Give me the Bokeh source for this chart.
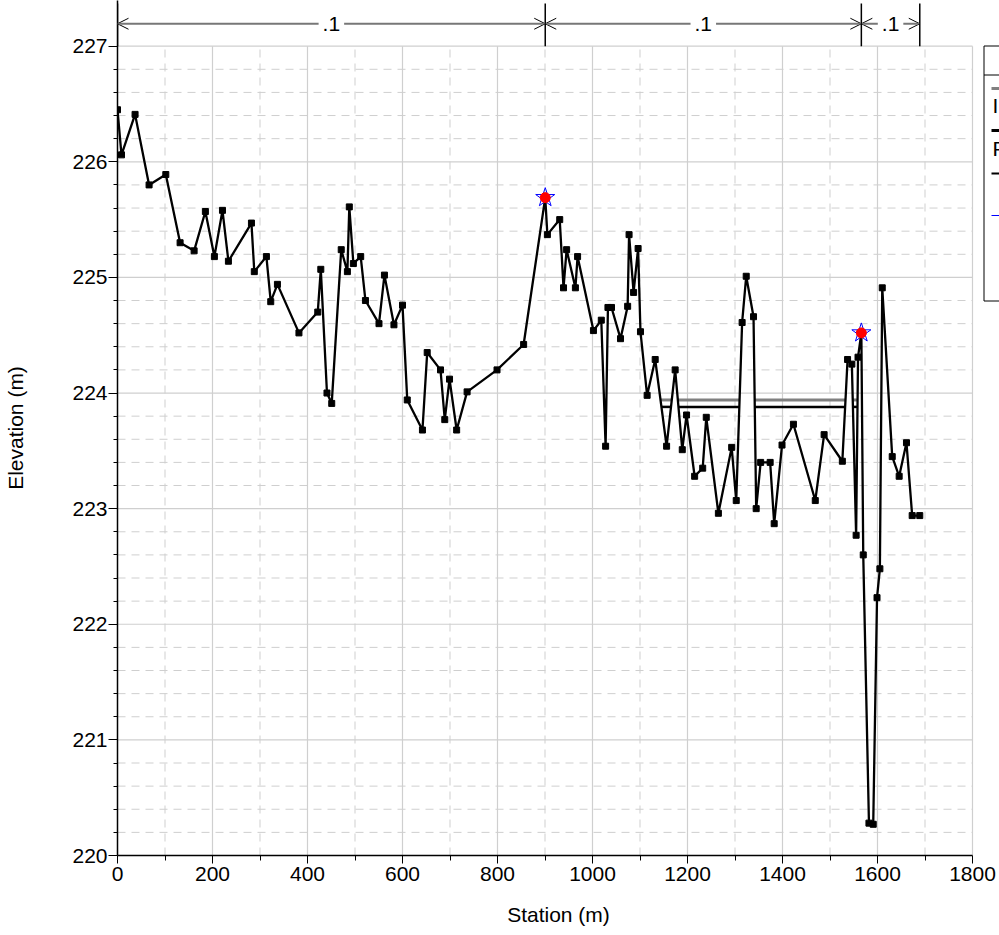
import numpy as np
from bokeh.plotting import figure
from bokeh.models import FixedTicker, Range1d, Arrow, OpenHead, Label
from bokeh.embed import file_html
from bokeh.resources import INLINE
from bokeh.core.properties import value

# ---------------- data ----------------
station = [0, 8.4, 37, 66.5, 101.7, 131.8, 161.3, 185, 204, 221, 233.5, 282, 288, 313.5,
           322.6, 336.7, 382, 421.6, 428, 441, 451, 471, 484, 488, 496.6, 512, 522, 550.5,
           562, 582, 600, 610, 642, 652, 680, 689, 699, 714, 736, 799, 855, 900.5, 905, 931,
           939, 945.5, 964, 968.6, 1002, 1018.5, 1027.6, 1032.5, 1040, 1059, 1074, 1077,
           1086.5, 1096, 1101, 1115, 1132, 1156, 1174, 1189, 1198, 1215, 1232, 1239.5, 1265,
           1293, 1302.6, 1315, 1323.6, 1339, 1344.6, 1354, 1374, 1382.5, 1399, 1423, 1469,
           1487.6, 1526, 1537, 1546, 1555, 1559, 1566, 1570, 1582, 1591, 1599, 1605, 1610,
           1631, 1645.6, 1661, 1673, 1689]
elevation = [226.45, 226.06, 226.41, 225.80, 225.89, 225.30, 225.23, 225.57, 225.18, 225.58,
             225.14, 225.47, 225.05, 225.18, 224.79, 224.94, 224.52, 224.70, 225.07, 224.00,
             223.91, 225.24, 225.05, 225.61, 225.12, 225.18, 224.80, 224.60, 225.02, 224.59,
             224.76, 223.94, 223.68, 224.35, 224.20, 223.77, 224.12, 223.68, 224.01, 224.20,
             224.42, 225.69, 225.37, 225.50, 224.91, 225.24, 224.91, 225.18, 224.54, 224.63,
             223.54, 224.74, 224.74, 224.47, 224.75, 225.37, 224.87, 225.25, 224.53, 223.98,
             224.29, 223.54, 224.20, 223.51, 223.81, 223.28, 223.35, 223.79, 222.96, 223.53,
             223.07, 224.61, 225.01, 224.66, 223.00, 223.40, 223.40, 222.87, 223.55, 223.73,
             223.07, 223.64, 223.41, 224.29, 224.25, 222.77, 224.31, 224.52, 222.60, 220.28,
             220.27, 222.23, 222.48, 224.91, 223.45, 223.28, 223.57, 222.94, 222.94]

bank_sta = [900.5, 1566]
n_sta = [0, 900.5, 1566, 1689]
n_val = [".1", ".1", ".1"]

ineff_left = [900.5, 900.5]
ineff_right = [1566, 1566]
ineff_elev = [223.94, 223.88]
ineff_color = ["#808080", "#000000"]
ineff_width = [3, 2.5]

legend_labels = ["Ineff", "Perm Ineff"]

x_ticks = [0, 200, 400, 600, 800, 1000, 1200, 1400, 1600, 1800]
x_minor = [100, 300, 500, 700, 900, 1100, 1300, 1500, 1700]
y_ticks = [220, 221, 222, 223, 224, 225, 226, 227]
y_minor = [round(220 + 0.2 * i, 1) for i in range(36) if i % 5]

FONT = "Liberation Sans"
FS = "21px"
X_LO, X_HI = 0, 1800
Y_LO, Y_HI = 220, 227
W, H = 999, 935
B_LEFT, B_BOTTOM = 117, 80
FRAME_W = W - B_LEFT          # frame runs to the right edge of the page
FRAME_H = H - B_BOTTOM
X_END = X_HI * FRAME_W / 855.0   # 1800 sits 855 px right of the frame's left edge
Y_TOP = 227.395      # room above the plot for the n-value annotations
N_Y = 227.194
N_LINE_TOP = 227.369
GRID = "#cfcfcf"

# ---------------- figure ----------------
p = figure(width=W, height=H, output_backend="svg", toolbar_location=None,
           title=None, x_range=Range1d(X_LO, X_END), y_range=Range1d(Y_LO, Y_TOP),
           min_border_left=B_LEFT, min_border_right=0, min_border_top=0,
           min_border_bottom=B_BOTTOM)
p.outline_line_color = None
p.background_fill_color = "white"
# pixel coordinates for the legend box (cut off at the page edge)
p.extra_x_ranges = {"px": Range1d(B_LEFT, W)}
p.extra_y_ranges = {"px": Range1d(FRAME_H, 0)}

# grids (drawn only inside the 0-1800 / 220-227 box)
p.xgrid.visible = False
p.ygrid.visible = False
hmaj = [y for y in y_ticks if y > Y_LO]
p.segment(x0=[X_LO] * len(hmaj), y0=hmaj, x1=[X_HI] * len(hmaj), y1=hmaj,
          line_color=GRID, line_width=1.2)
p.segment(x0=[X_LO] * len(y_minor), y0=y_minor, x1=[X_HI] * len(y_minor), y1=y_minor,
          line_color=GRID, line_width=1, line_dash="8 6")
vmaj = [x for x in x_ticks if x > X_LO]
p.segment(x0=vmaj, y0=[Y_LO] * len(vmaj), x1=vmaj, y1=[Y_HI] * len(vmaj),
          line_color=GRID, line_width=1.2)
p.segment(x0=x_minor, y0=[Y_LO] * len(x_minor), x1=x_minor, y1=[Y_HI] * len(x_minor),
          line_color=GRID, line_width=1, line_dash="8 6")

# axes
p.xaxis.ticker = FixedTicker(ticks=x_ticks, minor_ticks=x_minor)
p.yaxis.ticker = FixedTicker(ticks=y_ticks, minor_ticks=y_minor)
p.xaxis.bounds = (X_LO, X_HI)
for ax in (p.xaxis[0], p.yaxis[0]):
    ax.axis_line_color = "black"
    ax.axis_line_width = 1.5
    ax.major_tick_line_color = "black"
    ax.minor_tick_line_color = "black"
    ax.major_tick_in = 0
    ax.minor_tick_in = 0
    ax.major_label_text_font = FONT
    ax.major_label_text_font_size = FS
    ax.major_label_text_color = "black"
    ax.axis_label_text_font = FONT
    ax.axis_label_text_font_size = FS
    ax.axis_label_text_font_style = "normal"
    ax.axis_label_text_color = "black"
p.xaxis.major_tick_out = 8
p.xaxis.minor_tick_out = 5
p.xaxis.major_label_standoff = 3
p.xaxis.axis_label = "Station (m)"
p.xaxis.axis_label_standoff = 19
p.yaxis.major_tick_out = 9
p.yaxis.minor_tick_out = 4
p.yaxis.major_label_standoff = 1
p.yaxis.axis_label = "Elevation (m)"
p.yaxis.axis_label_standoff = 42


# ineffective flow lines, drawn only where ground lies below them
def wet_segments(xs, ys, left, right, level):
    xs = np.asarray(xs, float)
    ys = np.asarray(ys, float)
    pts = [left, right] + [x for x in xs if left < x < right]
    for i in range(len(xs) - 1):
        y0, y1 = ys[i], ys[i + 1]
        if (y0 - level) * (y1 - level) < 0:
            xc = xs[i] + (level - y0) * (xs[i + 1] - xs[i]) / (y1 - y0)
            if left < xc < right:
                pts.append(xc)
    pts = sorted(set(pts))
    segs = []
    for a, b in zip(pts[:-1], pts[1:]):
        if np.interp((a + b) / 2, xs, ys) < level:
            if segs and abs(segs[-1][1] - a) < 1e-9:
                segs[-1][1] = b
            else:
                segs.append([a, b])
    return segs


for lft, rgt, lev, col, wid in zip(ineff_left, ineff_right, ineff_elev, ineff_color, ineff_width):
    segs = wet_segments(station, elevation, lft, rgt, lev)
    p.segment(x0=[s[0] for s in segs], y0=[lev] * len(segs),
              x1=[s[1] for s in segs], y1=[lev] * len(segs),
              line_color=col, line_width=wid)

# ground
p.line(station, elevation, line_color="black", line_width=2.3)
p.scatter(station, elevation, marker="square", size=6, fill_color="black",
          line_color="black")

# bank stations / levee markers
bank_el = list(np.interp(bank_sta, station, elevation))
p.scatter(bank_sta, bank_el, marker="star", size=20, line_color="blue",
          fill_alpha=0, line_width=1)
p.scatter(bank_sta, bank_el, marker="circle", size=10, fill_color="red",
          line_color="red")

# n-value annotations above the plot
p.segment(x0=n_sta, y0=[Y_HI] * len(n_sta), x1=n_sta, y1=[N_LINE_TOP] * len(n_sta),
          line_color="black", line_width=1.5)
for a, b in zip(n_sta[:-1], n_sta[1:]):
    p.add_layout(Arrow(x_start=a, y_start=N_Y, x_end=b, y_end=N_Y,
                       line_color="#777777", line_width=2,
                       start=OpenHead(size=11, line_color="black", line_width=1),
                       end=OpenHead(size=11, line_color="black", line_width=1)))
for a, b, t in zip(n_sta[:-1], n_sta[1:], n_val):
    p.add_layout(Label(x=(a + b) / 2, y=N_Y, text=t, text_align="center",
                       text_baseline="middle", text_font=FONT, text_font_size=FS,
                       text_color="black", background_fill_color="white",
                       padding=4))

# ---------------- legend box, cut off by the page edge (pixel coordinates) ----------------
kw = dict(x_range_name="px", y_range_name="px")
p.quad(left=[983.5], right=[1030], top=[45.5], bottom=[300.5],
       fill_color="white", line_color="black", line_width=1, **kw)
p.segment(x0=[983.5], y0=[74.5], x1=[1030], y1=[74.5], line_color="black",
          line_width=1, **kw)
p.segment(x0=[991], y0=[88], x1=[1030], y1=[88], line_color="#808080", line_width=3, **kw)
p.segment(x0=[991], y0=[130], x1=[1030], y1=[130], line_color="black", line_width=3, **kw)
p.segment(x0=[991], y0=[173], x1=[1030], y1=[173], line_color="black", line_width=2, **kw)
p.segment(x0=[991], y0=[215], x1=[1030], y1=[215], line_color="blue", line_width=1, **kw)
p.text(x=[992, 992], y=[105, 148], text=legend_labels,
       text_font=value(FONT), text_font_size=FS, text_color="black",
       text_baseline="middle", text_align="left", **kw)

open("out.html", "w").write(file_html(p, INLINE))
